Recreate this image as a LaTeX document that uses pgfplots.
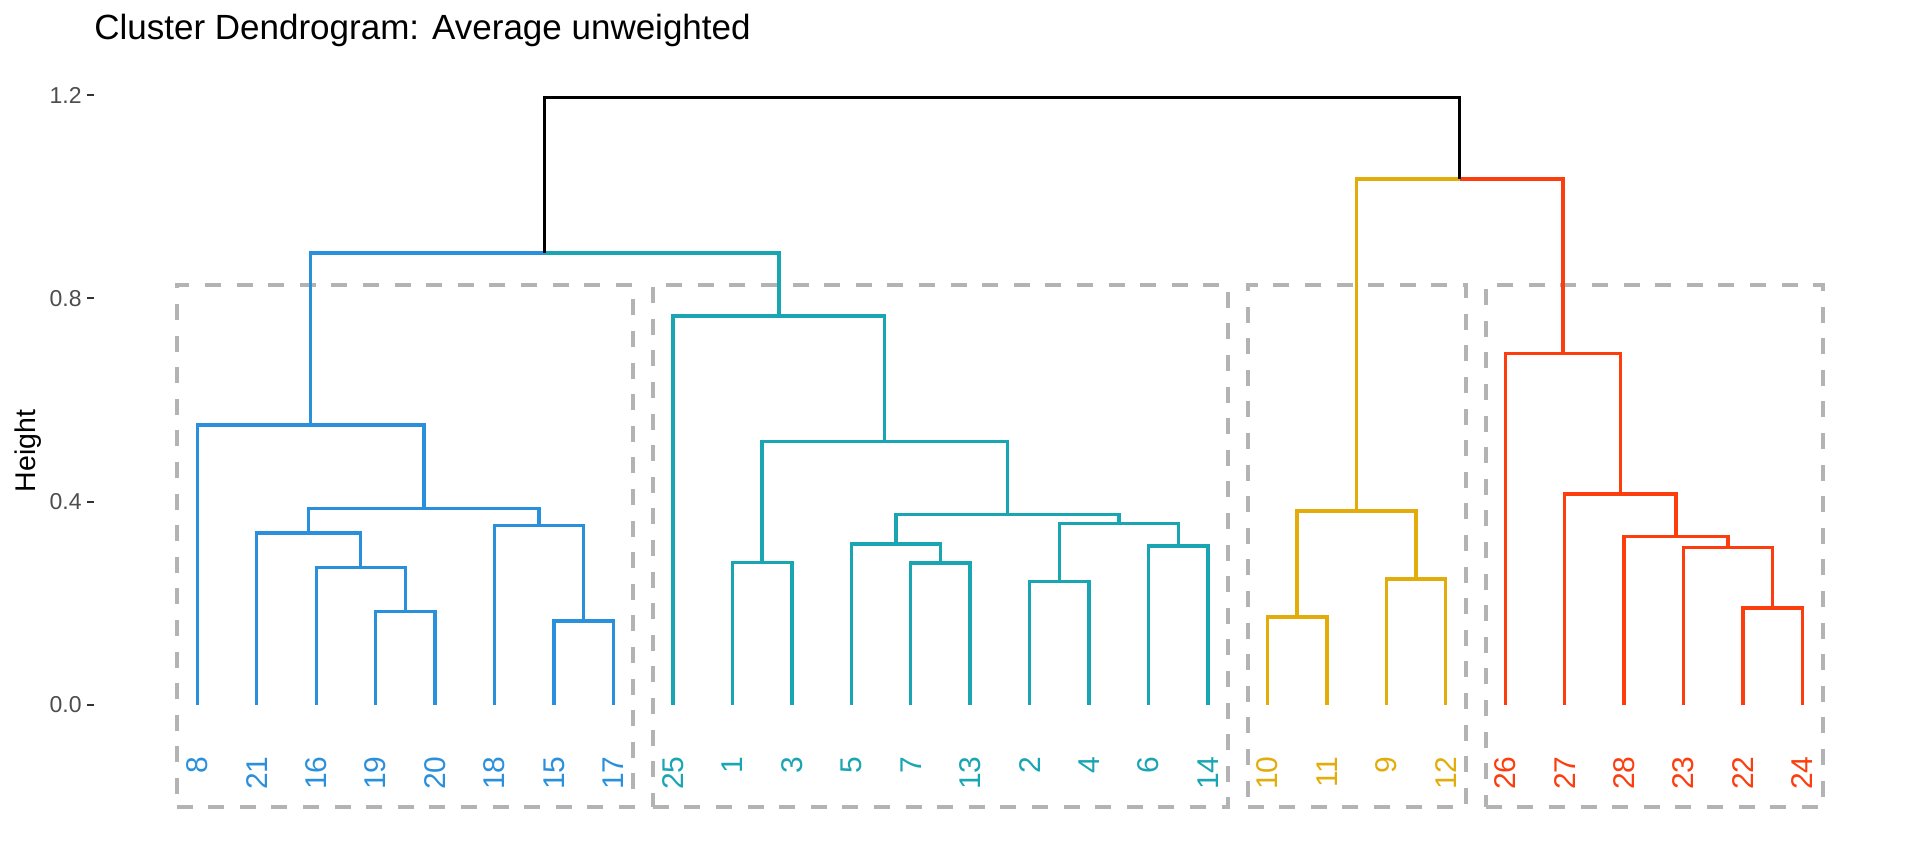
\documentclass[border=0pt]{standalone}
\usepackage{fontspec}
\setmainfont{Liberation Sans}
\usepackage{pgfplots}
\pgfplotsset{compat=1.18}

\definecolor{cblue}{HTML}{2B90DC}
\definecolor{cteal}{HTML}{1AA5B2}
\definecolor{cyell}{HTML}{E2AD0A}
\definecolor{cred}{HTML}{FC3D0E}
\definecolor{rectgrey}{HTML}{B3B3B3}
\definecolor{tickgrey}{HTML}{4D4D4D}

\begin{document}
\begin{tikzpicture}
\begin{axis}[
    scale only axis,
    width=905.9pt, height=360.9pt,
    xmin=-0.7376, xmax=29.7376,
    ymin=-0.2, ymax=1.22,
    clip=false,
    axis x line=none,
    axis y line=left,
    y axis line style={draw=none},
    ytick={0,0.4,0.8,1.2},
    tick align=outside,
    major tick length=3.35pt,
    tick style={draw=black!80, line width=1pt},
    yticklabel style={font=\fontsize{11.5}{13}\selectfont, text=tickgrey,
        inner sep=0pt, anchor=east, xshift=-2.65pt,
        /pgf/number format/fixed, /pgf/number format/fixed zerofill,
        /pgf/number format/precision=1, /pgf/number format/assume math mode=true},
    ylabel={Height},
    ylabel style={at={(rel axis cs:0,0.4927)}, anchor=base, yshift=29.5pt,
        inner sep=0pt, font=\fontsize{14.25}{17}\selectfont},
    title={Cluster Dendrogram: Average unweighted},
    title style={at={(rel axis cs:0,1)}, anchor=base west, yshift=16.7pt,
        inner sep=0pt, font=\fontsize{17.5}{21}\selectfont},
    every axis plot/.append style={line width=1.7pt, line join=miter},
]

% cluster boxes
\addplot[rectgrey, line width=1.9pt, dash pattern=on 8pt off 7.8pt]
    coordinates {(0.653,-0.2) (8.334,-0.2) (8.334,0.826) (0.653,0.826)} -- cycle;
\addplot[rectgrey, line width=1.9pt, dash pattern=on 8pt off 7.8pt]
    coordinates {(8.660,-0.2) (18.342,-0.2) (18.342,0.826) (8.660,0.826)} -- cycle;
\addplot[rectgrey, line width=1.9pt, dash pattern=on 8pt off 7.8pt]
    coordinates {(18.668,-0.2) (22.340,-0.2) (22.340,0.826) (18.668,0.826)} -- cycle;
\addplot[rectgrey, line width=1.9pt, dash pattern=on 8pt off 7.8pt]
    coordinates {(22.672,-0.2) (28.350,-0.2) (28.350,0.826) (22.672,0.826)} -- cycle;

% blue cluster
\addplot[cblue] coordinates {(4,0) (4,0.184) (5,0.184) (5,0)};
\addplot[cblue] coordinates {(3,0) (3,0.271) (4.5,0.271) (4.5,0.184)};
\addplot[cblue] coordinates {(2,0) (2,0.338) (3.75,0.338) (3.75,0.271)};
\addplot[cblue] coordinates {(7,0) (7,0.165) (8,0.165) (8,0)};
\addplot[cblue] coordinates {(6,0) (6,0.353) (7.5,0.353) (7.5,0.165)};
\addplot[cblue] coordinates {(2.875,0.338) (2.875,0.386) (6.75,0.386) (6.75,0.353)};
\addplot[cblue] coordinates {(1,0) (1,0.551) (4.8125,0.551) (4.8125,0.386)};
\addplot[cblue] coordinates {(2.90625,0.551) (2.90625,0.889) (6.84375,0.889)};

% teal cluster
\addplot[cteal] coordinates {(10,0) (10,0.280) (11,0.280) (11,0)};
\addplot[cteal] coordinates {(13,0) (13,0.279) (14,0.279) (14,0)};
\addplot[cteal] coordinates {(12,0) (12,0.317) (13.5,0.317) (13.5,0.279)};
\addplot[cteal] coordinates {(15,0) (15,0.243) (16,0.243) (16,0)};
\addplot[cteal] coordinates {(17,0) (17,0.313) (18,0.313) (18,0)};
\addplot[cteal] coordinates {(15.5,0.243) (15.5,0.357) (17.5,0.357) (17.5,0.313)};
\addplot[cteal] coordinates {(12.75,0.317) (12.75,0.375) (16.5,0.375) (16.5,0.357)};
\addplot[cteal] coordinates {(10.5,0.280) (10.5,0.518) (14.625,0.518) (14.625,0.375)};
\addplot[cteal] coordinates {(9,0) (9,0.765) (12.5625,0.765) (12.5625,0.518)};
\addplot[cteal] coordinates {(6.84375,0.889) (10.78125,0.889) (10.78125,0.765)};

% yellow cluster
\addplot[cyell] coordinates {(19,0) (19,0.173) (20,0.173) (20,0)};
\addplot[cyell] coordinates {(21,0) (21,0.248) (22,0.248) (22,0)};
\addplot[cyell] coordinates {(19.5,0.173) (19.5,0.382) (21.5,0.382) (21.5,0.248)};
\addplot[cyell] coordinates {(20.5,0.382) (20.5,1.035) (22.234375,1.035)};

% red cluster
\addplot[cred] coordinates {(27,0) (27,0.191) (28,0.191) (28,0)};
\addplot[cred] coordinates {(26,0) (26,0.310) (27.5,0.310) (27.5,0.191)};
\addplot[cred] coordinates {(25,0) (25,0.331) (26.75,0.331) (26.75,0.310)};
\addplot[cred] coordinates {(24,0) (24,0.415) (25.875,0.415) (25.875,0.331)};
\addplot[cred] coordinates {(23,0) (23,0.692) (24.9375,0.692) (24.9375,0.415)};
\addplot[cred] coordinates {(22.234375,1.035) (23.96875,1.035) (23.96875,0.692)};

% root
\addplot[black] coordinates {(6.84375,0.889) (6.84375,1.195) (22.234375,1.195) (22.234375,1.035)};

% leaf labels
\pgfplotsset{leaflab/.style={draw=none, nodes near coords, point meta=explicit symbolic,
    every node near coord/.append style={rotate=90, anchor=east, inner sep=0pt,
        text=#1, font=\fontsize{15}{18}\selectfont}}}
\addplot[leaflab=cblue] table[meta=lab] {
x y lab
1 -0.098 8
2 -0.098 21
3 -0.098 16
4 -0.098 19
5 -0.098 20
6 -0.098 18
7 -0.098 15
8 -0.098 17
};
\addplot[leaflab=cteal] table[meta=lab] {
x y lab
9 -0.098 25
10 -0.098 1
11 -0.098 3
12 -0.098 5
13 -0.098 7
14 -0.098 13
15 -0.098 2
16 -0.098 4
17 -0.098 6
18 -0.098 14
};
\addplot[leaflab=cyell] table[meta=lab] {
x y lab
19 -0.098 10
20 -0.098 11
21 -0.098 9
22 -0.098 12
};
\addplot[leaflab=cred] table[meta=lab] {
x y lab
23 -0.098 26
24 -0.098 27
25 -0.098 28
26 -0.098 23
27 -0.098 22
28 -0.098 24
};

\coordinate (bbl) at (axis cs:-2.3188,-0.3148);
\coordinate (btr) at (axis cs:29.977,1.387);
\end{axis}
\path (bbl) rectangle (btr);
\end{tikzpicture}
\end{document}
